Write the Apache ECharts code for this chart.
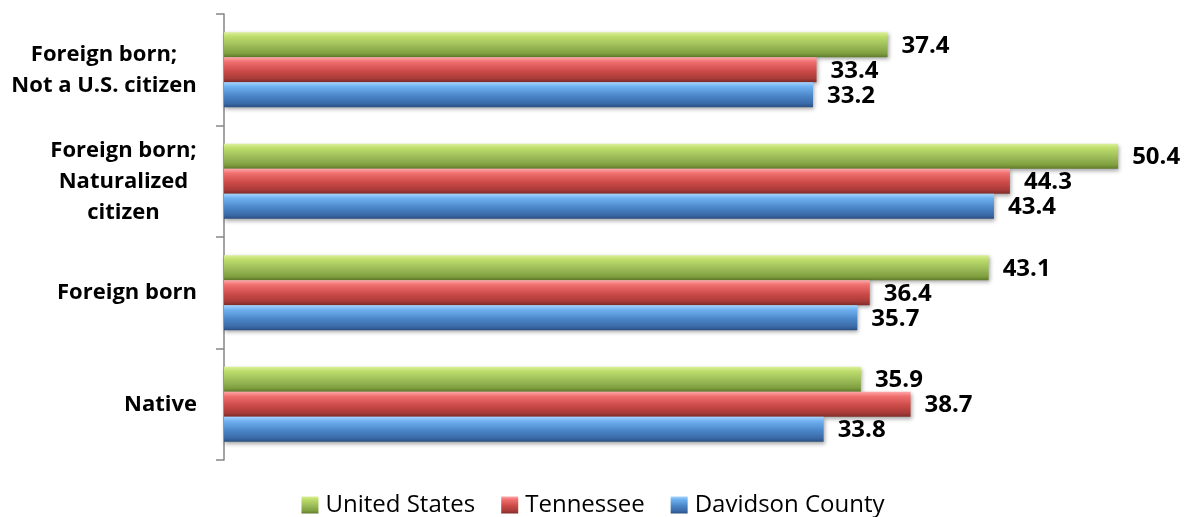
<!DOCTYPE html>
<html>
<head>
<meta charset="utf-8">
<script src="https://cdn.jsdelivr.net/npm/echarts@6/dist/echarts.min.js"></script>
<style>
html,body{margin:0;padding:0;background:#fff;}
#chart{width:1186px;height:517px;}
</style>
</head>
<body>
<div id="chart"></div>
<script>
// Categories listed bottom to top (ECharts category y-axis starts at the bottom)
var categories = ['Native', 'Foreign born', 'Foreign born;\nNaturalized\ncitizen', 'Foreign born;\nNot a U.S. citizen'];
var seriesNames = ['United States', 'Tennessee', 'Davidson County'];
var unitedStates = [35.9, 43.1, 50.4, 37.4];
var tennessee = [38.7, 36.4, 44.3, 33.4];
var davidsonCounty = [33.8, 35.7, 43.4, 33.2];

var LABEL_FONT = 'Open Sans';
var catFontSize = 22;

function grad(top, hi, mid, low, bottom) {
  return new echarts.graphic.LinearGradient(0, 0, 0, 1, [
    {offset: 0, color: top},
    {offset: 0.18, color: hi},
    {offset: 0.55, color: mid},
    {offset: 0.85, color: low},
    {offset: 1, color: bottom}
  ]);
}

// measure widest line of each category label so lines can be centred within the block
var cv = document.createElement('canvas').getContext('2d');
cv.font = 'bold ' + catFontSize + 'px "' + LABEL_FONT + '"';
var rich = {};
categories.forEach(function (c, i) {
  var w = 0;
  c.split('\n').forEach(function (l) { w = Math.max(w, cv.measureText(l).width); });
  rich['r' + i] = {width: Math.ceil(w) + 2, align: 'center', fontFamily: LABEL_FONT, fontWeight: 'bold',
    fontSize: catFontSize, lineHeight: 31, color: '#000'};
});

var chart = echarts.init(document.getElementById('chart'), null, {renderer: 'canvas'});

function barSeries(name, data, color) {
  return {
    name: name,
    type: 'bar',
    data: data,
    barWidth: 25,
    barGap: '0%',
    itemStyle: {
      color: color,
      shadowColor: 'rgba(0,0,0,0.35)',
      shadowBlur: 4,
      shadowOffsetX: 1,
      shadowOffsetY: 2
    },
    label: {
      show: true,
      position: 'right',
      distance: 14,
      offset: [0, 1],
      fontFamily: LABEL_FONT,
      fontWeight: 'bold',
      fontSize: 24,
      color: '#000',
      formatter: function (p) { return p.value.toFixed(1); }
    }
  };
}

chart.setOption({
  animation: false,
  backgroundColor: '#fff',
  grid: {left: 224, right: 4, top: 14, bottom: 57, containLabel: false},
  xAxis: {
    type: 'value', min: 0, max: 54, show: false,
    splitLine: {show: false}
  },
  yAxis: {
    type: 'category',
    data: categories,
    axisLine: {show: true, lineStyle: {color: '#868686', width: 1.5}},
    axisTick: {show: true, length: 8, lineStyle: {color: '#868686', width: 1.5}},
    axisLabel: {
      margin: 26,
      formatter: function (value, idx) {
        var i = categories.indexOf(value);
        return value.split('\n').map(function (l) { return '{r' + i + '|' + l + '}'; }).join('\n');
      },
      rich: rich
    }
  },
  legend: {
    data: seriesNames,
    top: 488,
    left: 'center',
    icon: 'rect',
    itemWidth: 17,
    itemHeight: 17,
    itemGap: 26,
    textStyle: {fontFamily: LABEL_FONT, fontSize: 24, color: '#000', padding: [0, 0, 0, 2]}
  },
  series: [
    barSeries('United States', unitedStates, grad('#dcf09a', '#bcdc6a', '#9bbb59', '#7f9e3e', '#5f7a2c')),
    barSeries('Tennessee', tennessee, grad('#ffa8a8', '#f07070', '#cc4a47', '#a83b38', '#7e2c2a')),
    barSeries('Davidson County', davidsonCounty, grad('#a6d4ff', '#6fb0f0', '#4a86c8', '#3a6aa8', '#2a4f80'))
  ]
});
</script>
</body>
</html>
